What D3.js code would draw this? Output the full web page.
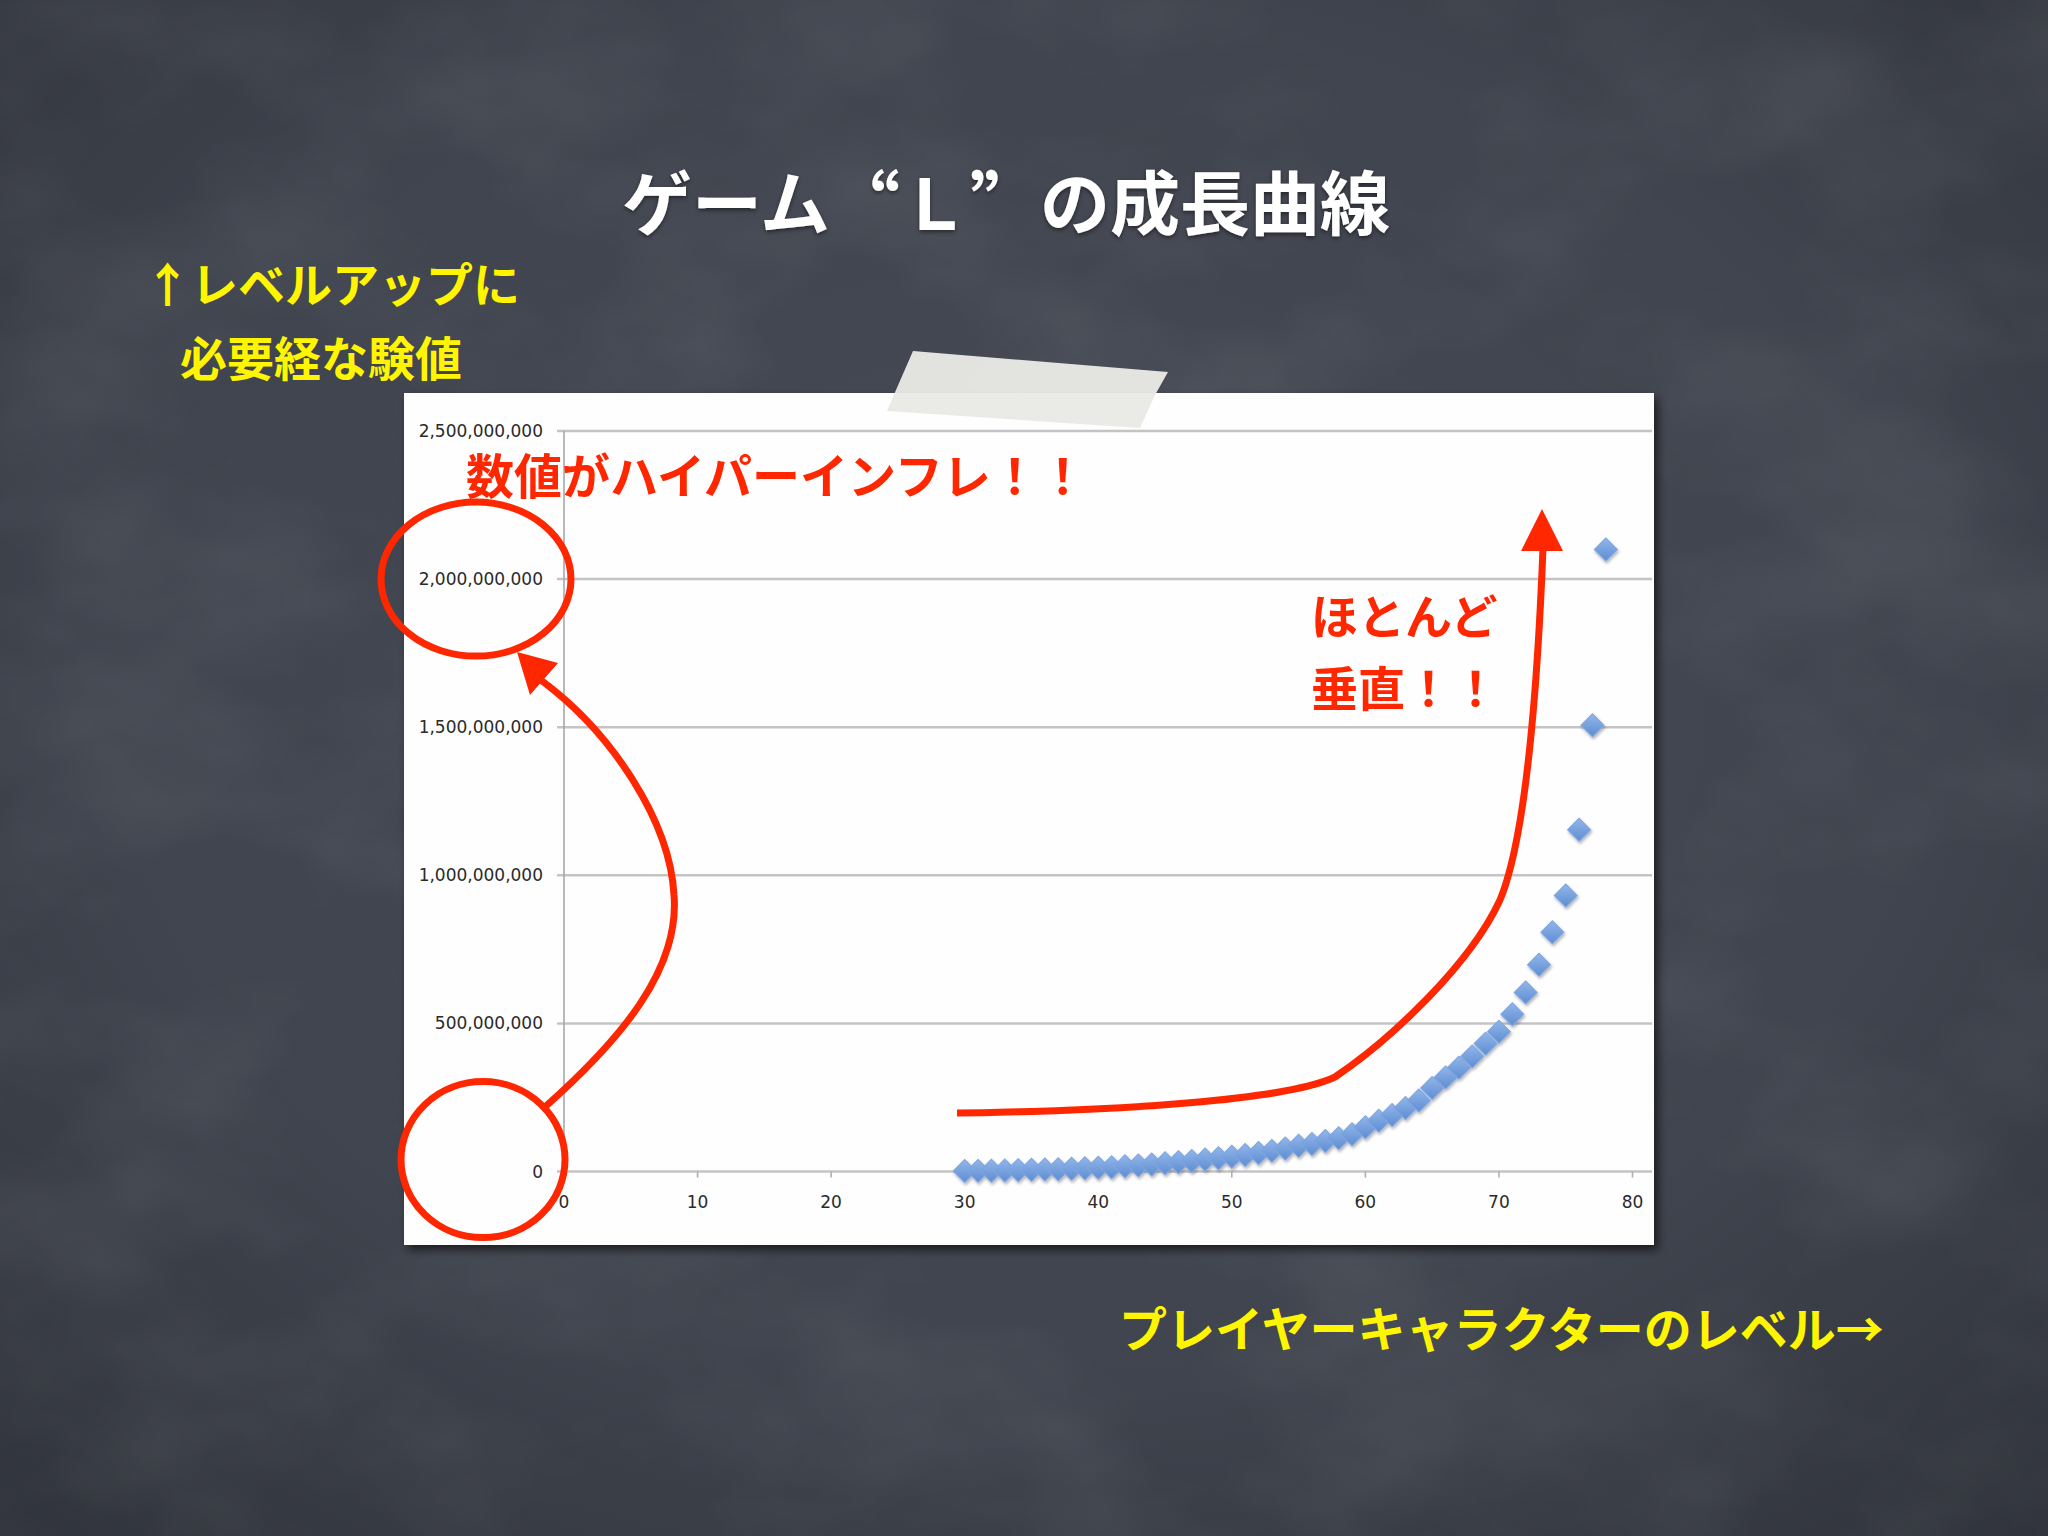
<!DOCTYPE html>
<html>
<head>
<meta charset="utf-8">
<script src="https://cdn.jsdelivr.net/npm/d3@7"></script>
<style>
html,body{margin:0;padding:0;background:#3d414b;}
svg{display:block;}
</style>
</head>
<body>
<svg id="chart" width="2048" height="1536"></svg>
<script>
// ---- data ----
const title = "ゲーム“L”の成長曲線";
const yLabelLines = ["↑レベルアップに", "必要経な験値"];
const xLabel = "プレイヤーキャラクターのレベル→";
const noteTop = "数値がハイパーインフレ！！";
const noteRight = ["ほとんど", "垂直！！"];

const levels = [30,31,32,33,34,35,36,37,38,39,40,41,42,43,44,45,46,47,48,49,
                50,51,52,53,54,55,56,57,58,59,60,61,62,63,64,65,66,67,68,69,
                70,71,72,73,74,75,76,77,78];
// experience needed (millions)
const expMillions = [2,2.5,3,4,5,6,7,8,9.5,11,13,15,18,21,24,28,32,36,41,45,
                     50,56,63,70,78,87,93,103,113,126,150,172,191,215,240,282,318,351,389,432,
                     472,531,605,698,808,932,1154,1507,2100];
const xTicks = [0,10,20,30,40,50,60,70,80];
const yTicks = [0,500000000,1000000000,1500000000,2000000000,2500000000];

// ---- setup ----
const svg = d3.select("#chart");
const defs = svg.append("defs");

const bg = defs.append("radialGradient").attr("id","bg").attr("cx","50%").attr("cy","45%").attr("r","75%");
bg.append("stop").attr("offset","0%").attr("stop-color","#474b56");
bg.append("stop").attr("offset","60%").attr("stop-color","#40444e");
bg.append("stop").attr("offset","100%").attr("stop-color","#30333b");

const noise = defs.append("filter").attr("id","noise").attr("x","0").attr("y","0").attr("width","100%").attr("height","100%");
noise.append("feTurbulence").attr("type","fractalNoise").attr("baseFrequency","0.004 0.006").attr("numOctaves","4").attr("seed","7").attr("result","t");
noise.append("feColorMatrix").attr("in","t").attr("type","matrix")
  .attr("values","0 0 0 0 1  0 0 0 0 1  0 0 0 0 1  0.55 0 0 0 -0.22");

const shadow = defs.append("filter").attr("id","paperShadow").attr("x","-5%").attr("y","-5%").attr("width","115%").attr("height","115%");
shadow.append("feDropShadow").attr("dx",4).attr("dy",5).attr("stdDeviation",5).attr("flood-color","#000").attr("flood-opacity",0.6);

const dshadow = defs.append("filter").attr("id","dShadow").attr("x","-50%").attr("y","-50%").attr("width","200%").attr("height","200%");
dshadow.append("feDropShadow").attr("dx",1).attr("dy",2).attr("stdDeviation",1.5).attr("flood-color","#223").attr("flood-opacity",0.35);

const dg = defs.append("linearGradient").attr("id","dg").attr("x1","0").attr("y1","0").attr("x2","1").attr("y2","1");
dg.append("stop").attr("offset","0%").attr("stop-color","#92b6ea");
dg.append("stop").attr("offset","100%").attr("stop-color","#5e8dd2");

const textShadow = defs.append("filter").attr("id","tShadow").attr("x","-10%").attr("y","-20%").attr("width","120%").attr("height","150%");
textShadow.append("feDropShadow").attr("dx",0).attr("dy",2).attr("stdDeviation",2).attr("flood-color","#000").attr("flood-opacity",0.5);

// background
svg.append("rect").attr("width",2048).attr("height",1536).attr("fill","url(#bg)");
svg.append("rect").attr("width",2048).attr("height",1536).attr("filter","url(#noise)").attr("opacity",0.25);

const cjk = "'Noto Sans CJK JP', 'Noto Sans', sans-serif";

// title
svg.append("text").attr("x",1006).attr("y",199)
  .attr("text-anchor","middle").attr("dominant-baseline","central")
  .attr("font-family",cjk).attr("font-weight",700).attr("font-size",70)
  .attr("lang","ja").style("font-feature-settings","'fwid' 1")
  .attr("fill","#ffffff").attr("filter","url(#tShadow)").text(title);

// yellow axis notes
svg.append("text").attr("x",144).attr("y",281).attr("dominant-baseline","central")
  .attr("font-family",cjk).attr("font-weight",700).attr("font-size",47)
  .attr("fill","#fff500").text(yLabelLines[0]);
svg.append("text").attr("x",180).attr("y",355).attr("dominant-baseline","central")
  .attr("font-family",cjk).attr("font-weight",700).attr("font-size",47)
  .attr("fill","#fff500").text(yLabelLines[1]);
svg.append("text").attr("x",1119).attr("y",1326).attr("dominant-baseline","central")
  .attr("font-family",cjk).attr("font-weight",700).attr("font-size",48)
  .attr("fill","#fff500").text(xLabel);

// paper
const paper = {x0:404, y0:393, x1:1654, y1:1245};
svg.append("rect").attr("x",paper.x0).attr("y",paper.y0)
  .attr("width",paper.x1-paper.x0).attr("height",paper.y1-paper.y0)
  .attr("fill","#fefefe").attr("filter","url(#paperShadow)");

// scales
const x = d3.scaleLinear().domain([0,80]).range([564, 1632.5]);
const y = d3.scaleLinear().domain([0,2500000000]).range([1171.6, 431]);

// gridlines + y labels
const g = svg.append("g");
g.selectAll("line.grid").data(yTicks).join("line").attr("class","grid")
  .attr("x1",557).attr("x2",paper.x1-2)
  .attr("y1",d=>y(d)).attr("y2",d=>y(d))
  .attr("stroke","#c4c4c4").attr("stroke-width",2.5);
g.append("line").attr("x1",x(0)).attr("x2",x(0)).attr("y1",y(2500000000)).attr("y2",y(0))
  .attr("stroke","#a8a8a8").attr("stroke-width",1.6);
g.selectAll("line.xt").data(xTicks).join("line").attr("class","xt")
  .attr("x1",d=>x(d)).attr("x2",d=>x(d)).attr("y1",y(0)).attr("y2",y(0)+6)
  .attr("stroke","#b0b0b0").attr("stroke-width",1.6);
const fmt = d3.format(",");
g.selectAll("text.yl").data(yTicks).join("text").attr("class","yl")
  .attr("x",543).attr("y",d=>y(d)).attr("text-anchor","end").attr("dominant-baseline","central")
  .attr("font-family","'DejaVu Sans', sans-serif").attr("font-size",17).attr("fill","#2a2a2a")
  .text(d=>fmt(d));
g.selectAll("text.xl").data(xTicks).join("text").attr("class","xl")
  .attr("x",d=>x(d)).attr("y",1202).attr("text-anchor","middle").attr("dominant-baseline","central")
  .attr("font-family","'DejaVu Sans', sans-serif").attr("font-size",17).attr("fill","#2a2a2a")
  .text(d=>d);

// tape
svg.append("path").attr("d","M913,351 L1168,372 L1155,395 L1140,428 L887,411 L896,390 Z")
  .attr("fill","#e9e9e5").attr("opacity",0.96);

// data points
const pts = levels.map((l,i)=>({l, v:expMillions[i]*1e6}));
const sym = d3.symbol().type(d3.symbolSquare).size(265);
svg.append("g").attr("filter","url(#dShadow)")
  .selectAll("path").data(pts).join("path")
  .attr("d",sym)
  .attr("transform",d=>`translate(${x(d.l)},${y(d.v)}) rotate(45)`)
  .attr("fill","url(#dg)").attr("stroke","#7fa6de").attr("stroke-width",1);

// red annotations
const red = "#ff2700";
const ann = svg.append("g");
ann.append("ellipse").attr("cx",476).attr("cy",y(2000000000)).attr("rx",95).attr("ry",77)
  .attr("fill","none").attr("stroke",red).attr("stroke-width",7);
ann.append("ellipse").attr("cx",483).attr("cy",y(0)-12).attr("rx",82).attr("ry",78)
  .attr("fill","none").attr("stroke",red).attr("stroke-width",7);

// left S-shaped arrow
const p1 = d3.path();
p1.moveTo(546,1106);
p1.bezierCurveTo(620,1040,680,970,674,895);
p1.bezierCurveTo(670,820,610,730,538,678);
ann.append("path").attr("d",p1.toString())
  .attr("fill","none").attr("stroke",red).attr("stroke-width",7).attr("stroke-linecap","round");
ann.append("path").attr("d","M517,652 L530,695 L558,663 Z").attr("fill",red);

// right arrow
const p2 = d3.path();
p2.moveTo(957,1113);
p2.bezierCurveTo(1150,1110,1290,1098,1335,1077);
p2.bezierCurveTo(1390,1040,1470,965,1500,900);
p2.bezierCurveTo(1525,840,1537,700,1543,548);
ann.append("path").attr("d",p2.toString())
  .attr("fill","none").attr("stroke",red).attr("stroke-width",7);
ann.append("path").attr("d","M1542,509 L1521,551 L1563,551 Z").attr("fill",red);

ann.append("text").attr("x",466).attr("y",473).attr("dominant-baseline","central")
  .attr("font-family",cjk).attr("font-weight",700).attr("font-size",48)
  .attr("fill",red).text(noteTop);
ann.selectAll("text.nr").data(noteRight).join("text").attr("class","nr")
  .attr("x",1311).attr("y",(d,i)=>613+i*72).attr("dominant-baseline","central")
  .attr("font-family",cjk).attr("font-weight",700).attr("font-size",47)
  .attr("fill",red).text(d=>d);
</script>
</body>
</html>
